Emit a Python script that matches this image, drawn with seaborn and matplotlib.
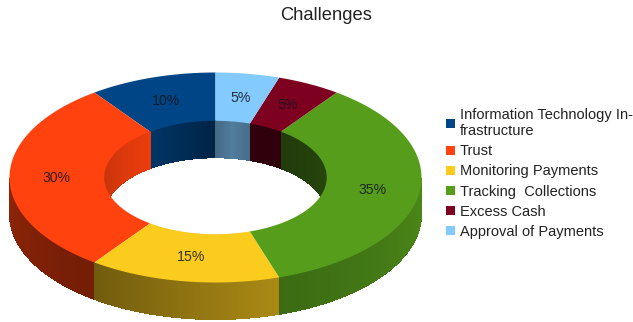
import numpy as np
import matplotlib
matplotlib.use("Agg")
import matplotlib.pyplot as plt
from matplotlib.collections import PolyCollection
from matplotlib.colors import to_rgb
from matplotlib.patches import Patch
import seaborn as sns

categories = ["Information Technology In-\nfrastructure", "Trust", "Monitoring Payments",
              "Tracking  Collections", "Excess Cash", "Approval of Payments"]
shares = [10, 30, 15, 35, 5, 5]
slice_colors = ["#004586", "#ff420e", "#fbcb1e", "#579d1c", "#7e0021", "#83caff"]
title = "Challenges"

sns.set_theme(style="white")
plt.rcParams["font.family"] = ["Liberation Sans", "DejaVu Sans"]
palette = sns.color_palette(slice_colors)

# Ring geometry in figure pixels
CX, CY = 215.5, 177.5
OUT_A, OUT_B = 206.0, 105.0
HOLE = 0.54
DEPTH = 37.0


def ellipse(theta_deg, frac, drop=0.0):
    """Point on the ring; theta runs clockwise from twelve o'clock."""
    t = np.radians(theta_deg)
    return (CX + frac * OUT_A * np.sin(t), CY - frac * OUT_B * np.cos(t) + drop)


def outer_shade(theta):
    return np.interp(theta, [90, 162, 216, 270], [0.88, 0.68, 0.45, 0.56])


def inner_shade(theta):
    th = np.where(theta < 180, theta + 360, theta)
    return np.interp(th, [270, 324, 325, 355, 360, 369, 378, 379, 396, 450],
                     [0.75, 0.92, 0.78, 0.55, 0.52, 0.62, 0.54, 0.38, 0.38, 0.46])


fig = plt.figure(figsize=(6.33, 3.22), dpi=100, facecolor="white")
ax = fig.add_axes([0, 0, 1, 1])
ax.set_xlim(0, 633)
ax.set_ylim(322, 0)
ax.axis("off")

# Slices run counter-clockwise from the top, in list order
fractions = np.array(shares) / sum(shares)
stops = 360 - np.concatenate([[0], np.cumsum(fractions)]) * 360

walls_outer, walls_inner, top_faces = [], [], []
for i, color in enumerate(palette):
    start, end = stops[i + 1], stops[i]
    grid = np.linspace(start, end, max(int(end - start), 2) * 2 + 1)
    rgb = np.array(to_rgb(color))
    for a, b in zip(grid[:-1], grid[1:]):
        mid = (a + b) / 2
        if 90 <= mid <= 270:
            quad = [ellipse(a, 1), ellipse(b, 1), ellipse(b, 1, DEPTH), ellipse(a, 1, DEPTH)]
            walls_outer.append((quad, rgb * outer_shade(mid)))
        else:
            quad = [ellipse(a, HOLE), ellipse(b, HOLE), ellipse(b, HOLE, DEPTH), ellipse(a, HOLE, DEPTH)]
            walls_inner.append((quad, rgb * inner_shade(mid)))
    outer_edge = [ellipse(t, 1) for t in grid]
    inner_edge = [ellipse(t, HOLE) for t in grid[::-1]]
    top_faces.append((outer_edge + inner_edge, rgb))

# Wall segments are drawn without antialiasing so their shared edges leave no seams
for group, z in ((walls_outer, 1), (walls_inner, 2)):
    ax.add_collection(PolyCollection([q for q, _ in group], facecolors=[c for _, c in group],
                                     edgecolors="none", antialiaseds=False, zorder=z))
ax.add_collection(PolyCollection([q for q, _ in top_faces], facecolors=[c for _, c in top_faces],
                                 edgecolors="none", zorder=3))

# Percent labels sit halfway across the ring
for i, share in enumerate(shares):
    mid = (stops[i] + stops[i + 1]) / 2
    x, y = ellipse(mid, (1 + HOLE) / 2)
    ax.text(x, y, f"{share}%", ha="center", va="center", fontsize=10.2,
            color="#141420", alpha=0.85, zorder=4)

fig.text(326 / 633, 1 - 15.5 / 322, title, ha="center", va="center", fontsize=13.2, color="#222222")

handles = [Patch(facecolor=c, edgecolor="none") for c in palette]
ax.legend(handles, categories, loc="upper left", bbox_to_anchor=(446 / 633, 1 - 108 / 322),
          frameon=False, fontsize=10.5, handlelength=0.6, handleheight=0.6, handletextpad=0.36,
          labelspacing=0.42, borderpad=0, borderaxespad=0, labelcolor="#222222")

fig.savefig("out.png", dpi=100, facecolor="white")
